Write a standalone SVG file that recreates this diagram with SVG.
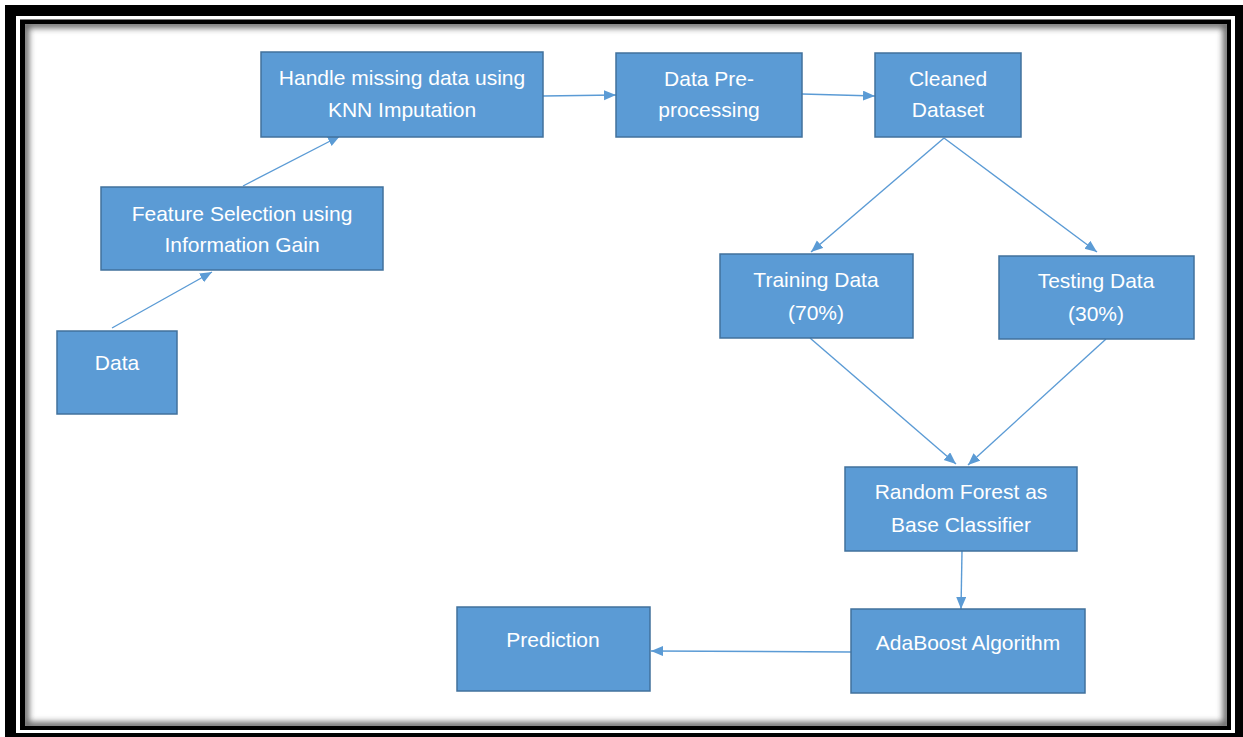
<svg xmlns="http://www.w3.org/2000/svg" width="1243" height="737" viewBox="0 0 1243 737">
<style>
.box{fill:#5B9BD5;stroke:#41719C;stroke-width:1.5}
.t{font-family:"Liberation Sans",Arial,sans-serif;font-size:21px;fill:#ffffff;text-anchor:middle}
.c{stroke:#5B9BD5;stroke-width:1.4;fill:none;marker-end:url(#ah)}
</style>
<defs>
<marker id="ah" markerUnits="userSpaceOnUse" markerWidth="13" markerHeight="11" refX="12" refY="5" orient="auto">
<path d="M0,0 L12,5 L0,10 z" fill="#5B9BD5"/>
</marker>
<clipPath id="inner"><rect x="25" y="24" width="1202" height="702"/></clipPath>
<filter id="blur" x="-5%" y="-5%" width="110%" height="110%"><feGaussianBlur stdDeviation="3"/></filter>
</defs>
<rect x="0" y="0" width="1243" height="737" fill="#ffffff"/>
<g id="frame">
<rect x="5" y="5" width="1238" height="732" fill="#000"/>
<rect x="16" y="16" width="1219" height="717" fill="#fff"/>
<rect x="20" y="19.5" width="1211" height="710.5" fill="#000"/>
<rect x="25" y="24" width="1202" height="702" fill="#fff"/>
<g clip-path="url(#inner)"><rect x="25" y="24" width="1202" height="702" fill="none" stroke="#666" stroke-width="8" filter="url(#blur)"/></g>
</g>
<g id="connectors">
<line class="c" x1="112" y1="328" x2="212" y2="272"/>
<line class="c" x1="243" y1="186" x2="340" y2="136"/>
<line class="c" x1="543" y1="96" x2="616" y2="95"/>
<line class="c" x1="802" y1="94" x2="875" y2="96"/>
<line class="c" x1="944" y1="138" x2="811" y2="252"/>
<line class="c" x1="944" y1="138" x2="1097" y2="252"/>
<line class="c" x1="810" y1="338" x2="956" y2="464"/>
<line class="c" x1="1106" y1="339" x2="968" y2="465"/>
<line class="c" x1="962" y1="551" x2="961" y2="609"/>
<line class="c" x1="851" y1="652" x2="651" y2="651"/>
</g>
<g id="data"><rect class="box" x="57" y="331" width="120" height="83"/><text class="t" x="117" y="370">Data</text></g>
<g id="feature"><rect class="box" x="101" y="187" width="282" height="83"/><text class="t" x="242" y="221">Feature Selection using</text><text class="t" x="242" y="252">Information Gain</text></g>
<g id="handle"><rect class="box" x="261" y="52" width="282" height="85"/><text class="t" x="402" y="85">Handle missing data using</text><text class="t" x="402" y="117">KNN Imputation</text></g>
<g id="preprocessing"><rect class="box" x="616" y="53" width="186" height="84"/><text class="t" x="709" y="86">Data Pre-</text><text class="t" x="709" y="117">processing</text></g>
<g id="cleaned"><rect class="box" x="875" y="53" width="146" height="84"/><text class="t" x="948" y="86">Cleaned</text><text class="t" x="948" y="117">Dataset</text></g>
<g id="training"><rect class="box" x="720" y="254" width="193" height="84"/><text class="t" x="816" y="287">Training Data</text><text class="t" x="816" y="320">(70%)</text></g>
<g id="testing"><rect class="box" x="999" y="256" width="195" height="83"/><text class="t" x="1096" y="288">Testing Data</text><text class="t" x="1096" y="321">(30%)</text></g>
<g id="randomforest"><rect class="box" x="845" y="467" width="232" height="84"/><text class="t" x="961" y="499">Random Forest as</text><text class="t" x="961" y="532">Base Classifier</text></g>
<g id="adaboost"><rect class="box" x="851" y="609" width="234" height="84"/><text class="t" x="968" y="650">AdaBoost Algorithm</text></g>
<g id="prediction"><rect class="box" x="457" y="607" width="193" height="84"/><text class="t" x="553" y="647">Prediction</text></g>
</svg>
